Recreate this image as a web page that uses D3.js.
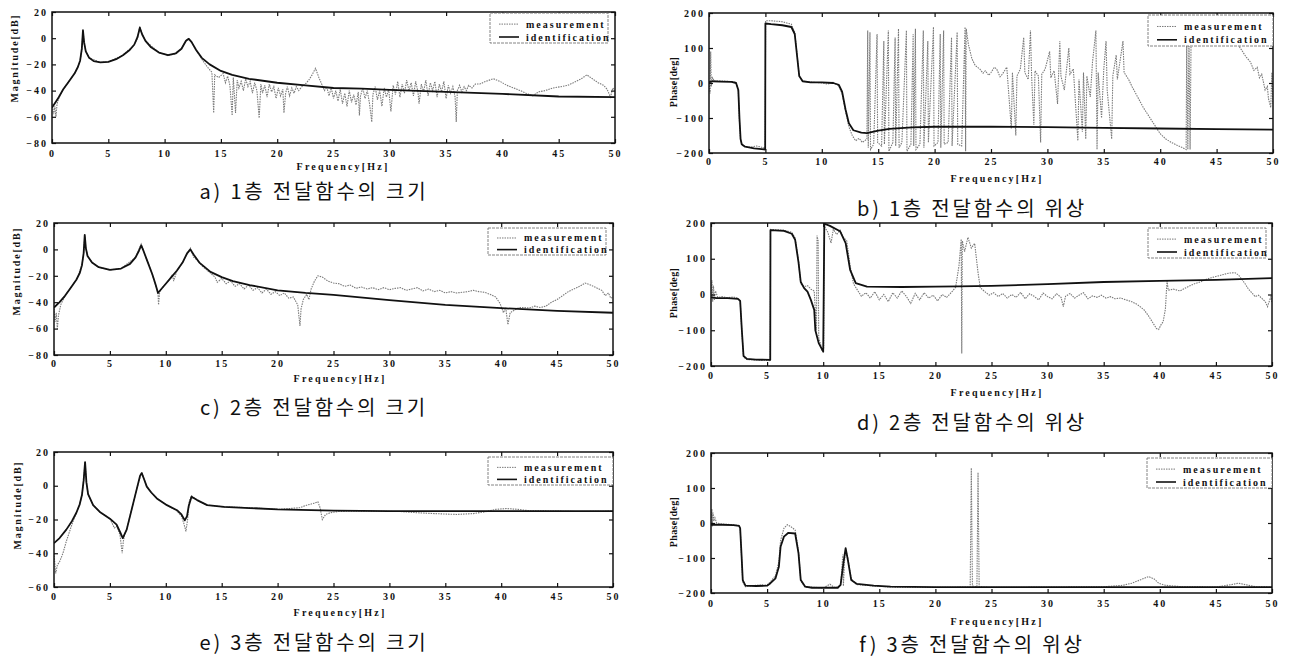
<!DOCTYPE html>
<html>
<head>
<meta charset="utf-8">
<script src="https://cdn.jsdelivr.net/npm/d3@7"></script>
<style>
  body { margin: 0; background: #fff; }
  svg text { font-family: "Liberation Serif", "DejaVu Serif", serif; }
  svg text.caption { font-family: "Noto Sans CJK KR", "Noto Sans", sans-serif; }
</style>
</head>
<body>
<div id="container"></div>
<script>
// tick labels and texts
const freqTicks = [0, 5, 10, 15, 20, 25, 30, 35, 40, 45, 50];
const magTicks12 = [20, 0, -20, -40, -60, -80];
const magTicks3 = [20, 0, -20, -40, -60];
const phaseTicks = [200, 100, 0, -100, -200];
const legendLabels = ["measurement", "identification"];
const captions = [
  "a) 1층 전달함수의 크기", "b) 1층 전달함수의 위상",
  "c) 2층 전달함수의 크기", "d) 2층 전달함수의 위상",
  "e) 3층 전달함수의 크기", "f) 3층 전달함수의 위상"
];

// [frequency Hz, value]
const ident1Mag = [[0,-53],[0.3,-49],[0.6,-45],[1,-39],[1.5,-33],[2,-27],[2.3,-22],[2.5,-17],[2.65,-8],[2.75,6],[2.85,-3],[3,-10],[3.3,-15],[3.7,-17.5],[4.3,-18.5],[5,-18],[5.7,-16],[6.3,-13],[6.9,-9],[7.3,-5],[7.6,1],[7.8,8],[8,3],[8.3,-2],[8.8,-7],[9.5,-11],[10.3,-13],[11,-11.5],[11.5,-8],[11.9,-2],[12.15,-0.5],[12.4,-3],[12.8,-9],[13.3,-15],[14,-20],[15,-25],[16,-28],[17.5,-31],[20,-34],[22.5,-36],[25,-38],[27.5,-38.5],[30,-39.5],[35,-41],[40,-42.5],[45,-44.5],[50,-45]];
const meas1Mag = [[0,-50],[0.15,-58],[0.25,-52],[0.35,-60],[0.45,-50],[0.6,-46],[1,-39],[1.5,-33],[2,-27],[2.3,-22],[2.5,-17],[2.65,-9],[2.75,7],[2.85,-4],[3,-10],[3.3,-15],[4.3,-18.5],[5,-18],[6.3,-13],[7.3,-5],[7.6,0],[7.8,9],[8,3],[8.3,-2],[9.5,-11],[10.3,-13],[11,-12],[11.5,-8],[11.9,-2],[12.1,0],[12.4,-3],[12.8,-9],[13.3,-16],[13.8,-22],[14.2,-26],[14.36,-57],[14.45,-28],[14.8,-30],[15.2,-27],[15.4,-34],[15.6,-29],[15.8,-36],[16.0,-59],[16.1,-30],[16.3,-57],[16.45,-32],[16.6,-38],[16.8,-33],[17.0,-40],[17.2,-31],[17.4,-37],[17.6,-33],[17.8,-42],[18,-34],[18.2,-40],[18.4,-61],[18.55,-35],[18.7,-42],[18.9,-36],[19.1,-45],[19.3,-35],[19.5,-41],[19.7,-37],[19.9,-46],[20.1,-38],[20.3,-44],[20.5,-39],[20.6,-57],[20.75,-42],[20.9,-37],[21.1,-44],[21.3,-38],[21.5,-42],[21.7,-37],[21.9,-40],[22.2,-37],[22.5,-35],[22.8,-32],[23.1,-28],[23.4,-23],[23.7,-30],[24.0,-36],[24.2,-40],[24.4,-37],[24.6,-44],[24.8,-38],[25.0,-46],[25.2,-40],[25.4,-48],[25.6,-39],[25.8,-50],[26.0,-42],[26.2,-52],[26.4,-40],[26.6,-49],[26.8,-43],[27.0,-51],[27.2,-41],[27.3,-59],[27.4,-44],[27.6,-38],[27.8,-46],[28.0,-40],[28.2,-50],[28.4,-64],[28.5,-43],[28.7,-37],[28.9,-47],[29.1,-40],[29.3,-52],[29.5,-38],[29.7,-45],[29.9,-39],[30.1,-56],[30.3,-36],[30.5,-43],[30.7,-33],[30.9,-45],[31.1,-35],[31.3,-42],[31.5,-32],[31.7,-40],[31.9,-34],[32.1,-44],[32.3,-33],[32.5,-41],[32.6,-50],[32.8,-35],[33.0,-41],[33.2,-32],[33.4,-44],[33.6,-34],[33.8,-40],[34.0,-33],[34.2,-45],[34.4,-35],[34.6,-41],[34.8,-33],[35.0,-46],[35.2,-36],[35.4,-42],[35.6,-37],[35.8,-45],[35.9,-64],[36.0,-40],[36.2,-36],[36.4,-41],[36.6,-37],[36.8,-40],[37.0,-36],[37.3,-38],[37.6,-35],[38,-35],[38.5,-33],[39.2,-31],[39.8,-33],[40.4,-36],[41,-38],[41.6,-40],[42.1,-42],[42.7,-44],[43.2,-41],[43.8,-40],[44.5,-38],[45.2,-37],[45.8,-36],[46.3,-34],[47,-31],[47.5,-28],[48,-31],[48.5,-34],[49,-36],[49.3,-39],[49.6,-45],[49.8,-38],[50,-40]];

const ident1Phase = [[0,2],[0.3,5],[1,4],[2,3],[2.4,0],[2.6,-20],[2.7,-100],[2.8,-160],[2.9,-175],[3.2,-182],[4,-187],[4.98,-190],[5.0,170],[5.5,168],[6.5,165],[7.3,160],[7.6,140],[7.8,80],[8,20],[8.3,5],[9,2],[10,2],[11,0],[11.5,-5],[11.8,-25],[12.1,-75],[12.4,-115],[12.8,-135],[13.5,-142],[14,-143],[15,-136],[16,-131],[18,-127],[20,-125],[25,-125],[30,-126],[35,-128],[40,-130],[45,-132],[50,-133]];
const meas1Phase = [[0,0],[0.1,-30],[0.15,90],[0.2,-10],[0.3,15],[0.5,5],[1,6],[2,4],[2.4,2],[2.6,-25],[2.7,-110],[2.8,-165],[3,-180],[3.5,-184],[4.2,-180],[4.98,-186],[5.02,178],[5.5,178],[6.5,175],[7.3,168],[7.6,145],[7.8,85],[8.0,20],[8.3,5],[9,3],[10,0],[10.5,-3],[11,2],[11.5,-8],[11.8,-30],[12.1,-80],[12.4,-125],[12.7,-150],[13,-165],[13.3,-158],[13.6,-170],[14.0,-160],[14.07,150],[14.12,-185],[14.27,145],[14.32,-190],[14.6,-175],[14.9,140],[14.95,-170],[15.3,-180],[15.5,120],[15.55,-175],[15.9,150],[15.95,-195],[16.3,-170],[16.5,130],[16.55,-180],[16.8,155],[16.85,-185],[17.1,-170],[17.5,150],[17.55,-195],[17.9,-175],[18.1,140],[18.15,-180],[18.3,155],[18.35,-190],[18.7,-175],[19,150],[19.05,-185],[19.4,120],[19.45,-170],[19.9,160],[19.95,-180],[20.3,-170],[20.5,140],[20.55,-185],[20.8,150],[20.85,-175],[21.2,-170],[21.5,130],[21.55,-180],[22,145],[22.05,-175],[22.4,-180],[22.7,160],[22.75,-195],[22.8,155],[23,110],[23.3,70],[23.6,50],[24,40],[24.3,28],[24.5,35],[24.8,22],[25,30],[25.3,45],[25.5,40],[25.8,18],[26,25],[26.4,45],[26.8,-130],[26.9,30],[27.2,-150],[27.3,20],[27.6,40],[27.9,130],[28,30],[28.3,10],[28.5,150],[28.6,20],[28.8,-120],[28.9,35],[29.2,20],[29.4,-170],[29.5,25],[29.8,40],[30.2,90],[30.3,15],[30.6,35],[30.9,-60],[31.1,120],[31.2,20],[31.5,-20],[31.9,100],[32,25],[32.3,40],[32.7,-165],[32.8,10],[33.1,-140],[33.2,30],[33.4,-160],[33.5,20],[33.8,-40],[34,60],[34.3,150],[34.4,-190],[34.5,30],[34.8,-100],[35,40],[35.2,120],[35.3,-20],[35.7,-160],[35.8,20],[36.1,80],[36.2,10],[36.7,120],[36.8,30],[37.2,10],[37.5,-10],[38,-40],[38.5,-70],[39,-95],[39.5,-120],[40,-145],[40.5,-160],[41,-170],[41.5,-178],[42,-185],[42.3,-190],[42.35,130],[42.45,-190],[42.55,130],[42.65,-190],[42.75,175],[43.5,170],[44.5,160],[45.5,150],[46.5,125],[47.1,100],[47.6,75],[48,60],[48.3,36],[48.6,45],[48.8,15],[49,25],[49.3,-20],[49.5,-10],[49.6,-45],[49.8,-70],[49.9,30],[50,-60]];

const ident2Mag = [[0,-44],[0.5,-40],[1,-35],[1.5,-29],[2,-23],[2.3,-18],[2.5,-12],[2.65,-3],[2.75,11],[2.85,1],[3,-5],[3.4,-10],[4,-13.5],[5,-15.5],[6,-14.5],[6.8,-11],[7.3,-6],[7.6,-1],[7.8,3],[8,-1],[8.4,-10],[8.8,-19],[9.1,-27],[9.3,-33],[9.6,-30],[10,-26],[10.5,-21],[11,-16],[11.5,-10],[11.9,-3],[12.2,0],[12.5,-4],[13,-10],[14,-17],[15,-21],[16,-24],[17.5,-27],[20,-31],[22.5,-33],[25,-34.5],[30,-38.5],[35,-42],[40,-44.5],[45,-46.5],[50,-48]];
const meas2Mag = [[0,-45],[0.1,-55],[0.2,-48],[0.3,-60],[0.4,-50],[0.6,-42],[1,-35],[1.5,-29],[2,-23],[2.5,-12],[2.65,-3],[2.75,10],[2.85,1],[3,-5],[3.4,-10],[4,-13.5],[5,-15.5],[6,-14.5],[7.3,-6],[7.8,4],[8,-1],[8.4,-10],[8.8,-19],[9.3,-33],[9.35,-42],[9.45,-32],[9.8,-28],[10.3,-23],[10.6,-19],[10.7,-24],[11,-16],[11.5,-10],[12,-2],[12.2,1],[12.5,-6],[12.8,-8],[13.3,-13],[14,-18],[14.4,-21],[14.6,-25],[15,-22],[15.4,-26],[15.8,-24],[16.2,-28],[16.6,-26],[17,-30],[17.4,-27],[17.8,-31],[18.2,-29],[18.6,-33],[19,-30],[19.4,-34],[19.8,-32],[20.2,-35],[20.6,-33],[21,-37],[21.4,-36],[21.8,-42],[22,-58],[22.1,-45],[22.3,-38],[22.6,-34],[22.8,-38],[23,-30],[23.3,-24],[23.6,-20],[24,-21],[24.5,-24],[25,-25.5],[25.5,-26],[26,-28],[26.5,-27],[27,-29.5],[27.5,-28.5],[28,-30],[28.5,-29],[29,-30.5],[29.5,-29],[30,-30.5],[30.5,-29.5],[31,-29],[31.5,-31],[32,-30],[32.5,-29],[33,-31.5],[33.5,-30],[34,-32],[34.5,-31],[35,-33],[35.5,-32],[36,-33],[36.5,-32.5],[37,-32],[37.5,-31],[38,-32],[38.5,-32.5],[39,-34],[39.5,-36],[39.9,-41],[40.2,-48],[40.4,-44],[40.6,-57],[40.8,-48],[41.2,-46],[41.6,-44],[42,-44],[42.5,-44.5],[43,-43],[43.5,-44],[44,-43],[44.5,-40],[45,-38],[45.5,-35],[46,-32],[46.5,-30],[47,-28],[47.5,-25.5],[48,-27],[48.5,-29],[49,-31],[49.3,-35],[49.6,-33],[49.8,-37],[50,-36]];

const ident2Phase = [[0,-8],[0.5,-10],[1.5,-10],[2.4,-12],[2.6,-18],[2.75,-100],[2.9,-172],[3.2,-180],[4,-182],[5.28,-183],[5.3,180],[6.5,178],[7.2,170],[7.5,153],[7.8,90],[8.0,35],[8.3,18],[8.6,8],[8.9,-15],[9.2,-43],[9.3,-100],[9.6,-136],[10.0,-160],[10.1,198],[10.6,192],[11.5,177],[12,144],[12.4,69],[12.9,32],[13.9,22],[17,21],[20,22],[22,23],[25,24],[30,29],[35,35],[40,38],[45,41],[50,46]];
const meas2Phase = [[0,-5],[0.08,40],[0.15,-20],[0.22,25],[0.3,-15],[0.4,10],[0.6,-8],[1,-6],[1.5,-9],[2,-7],[2.4,-10],[2.6,-18],[2.75,-105],[2.9,-175],[3.2,-182],[4,-183],[5.28,-185],[5.3,182],[6.5,180],[7.2,174],[7.5,158],[7.8,95],[8.0,30],[8.3,22],[8.6,25],[8.9,15],[9.2,10],[9.4,-100],[9.45,165],[9.55,150],[9.6,-120],[9.9,-155],[10.05,-150],[10.1,190],[10.4,175],[10.7,144],[10.9,182],[11.2,168],[11.5,180],[11.8,160],[12.1,150],[12.4,80],[12.7,30],[13,15],[13.4,-5],[13.8,5],[14.2,-10],[14.6,8],[15,-15],[15.4,0],[15.8,-20],[16.2,5],[16.6,-10],[17,10],[17.4,-5],[17.8,-25],[18.2,3],[18.6,-15],[19,5],[19.4,-10],[19.8,-2],[20.2,-18],[20.6,0],[21,-8],[21.4,5],[21.8,20],[22.1,80],[22.3,155],[22.35,-165],[22.4,150],[22.6,120],[22.9,160],[23.2,130],[23.5,143],[23.8,61],[24,19],[24.4,8],[24.8,-2],[25.2,5],[25.6,-6],[26,3],[26.4,-10],[26.8,0],[27.2,-8],[27.6,6],[28,-12],[28.4,2],[28.8,-5],[29.2,-15],[29.6,4],[30,-6],[30.4,-12],[30.8,2],[31.2,-8],[31.4,-34],[31.6,-5],[32,3],[32.4,-10],[32.8,-2],[33.2,5],[33.6,-12],[34,-4],[34.4,-8],[34.8,-2],[35.2,-10],[35.6,-6],[36,-12],[36.5,-10],[37,-15],[37.5,-20],[38,-28],[38.6,-43],[39,-60],[39.4,-80],[39.7,-95],[39.9,-98],[40.1,-85],[40.3,-76],[40.5,-40],[40.6,15],[40.65,38],[40.75,12],[41.2,15],[41.8,10],[42.4,20],[43,29],[43.6,35],[44.1,42],[44.6,47],[45.2,52],[45.8,57],[46.2,60],[46.7,61],[47,55],[47.3,43],[47.6,30],[47.9,15],[48.2,5],[48.5,-6],[48.8,-2],[49.1,-11],[49.4,-20],[49.6,-34],[49.8,-15],[49.9,-6],[50,-24]];

const ident3Mag = [[0,-34],[0.5,-31],[1.1,-26],[1.6,-21],[2,-16],[2.3,-11],[2.5,-5.5],[2.65,3],[2.78,14],[2.9,2],[3.05,-5],[3.5,-11.5],[4.1,-15.5],[5,-19.5],[5.6,-23],[5.95,-28],[6.15,-31],[6.5,-26],[6.8,-18],[7.1,-10],[7.4,-2],[7.7,6],[7.85,7.5],[8.05,4],[8.3,-0.5],[8.7,-4],[9.2,-7.5],[10.1,-11.5],[11,-14.5],[11.4,-17],[11.7,-20.5],[11.9,-18],[12.05,-12],[12.3,-6.5],[12.8,-8.5],[13.7,-11.5],[15.2,-12.5],[17.5,-13.2],[20,-14],[25,-14.8],[30,-15],[40,-15],[50,-15]];
const meas3Mag = [[0,-40],[0.15,-52],[0.3,-47],[0.5,-45],[0.8,-40],[1.1,-33],[1.6,-23],[2,-16],[2.3,-11],[2.5,-5.5],[2.65,3],[2.78,14],[2.9,2],[3.05,-5],[3.5,-11.5],[4.1,-15.5],[5,-19.5],[5.4,-25],[5.6,-24],[5.9,-29],[6.1,-40],[6.2,-33],[6.35,-28],[6.5,-26],[6.8,-18],[7.1,-10],[7.4,-2],[7.7,5],[7.85,8],[8.05,4],[8.3,-0.5],[8.7,-4],[9.2,-7.5],[10.1,-11.5],[11,-15],[11.4,-18],[11.6,-22],[11.8,-27],[11.95,-20],[12.1,-9],[12.3,-6],[12.8,-8.5],[13.7,-11.5],[15.2,-12.5],[17.5,-13],[20,-14],[21,-13.5],[22,-13],[22.6,-11.5],[23.2,-10.5],[23.6,-9.5],[23.8,-13],[24,-20],[24.3,-17],[24.7,-16],[25.5,-15.2],[28,-15],[31,-15.3],[32.5,-16],[34,-16.5],[36,-17],[37.5,-16.5],[38.5,-15.5],[39.5,-14],[40.5,-13.5],[41.5,-14],[42.5,-14.8],[45,-15],[47,-15.3],[50,-15]];

const ident3Phase = [[0,-5],[1,-5],[2,-6],[2.5,-8],[2.6,-15],[2.72,-90],[2.83,-163],[3.07,-179],[4,-180],[5,-179],[5.3,-172],[5.75,-158],[6.05,-125],[6.2,-68],[6.5,-39],[6.9,-28],[7.5,-30],[7.8,-87],[8.0,-163],[8.4,-182],[9,-185],[11.3,-185],[11.55,-177],[11.8,-115],[12.0,-72],[12.2,-106],[12.5,-163],[13,-174],[14.5,-179],[16,-182],[20,-183],[30,-183],[40,-183],[50,-183]];
const meas3Phase = [[0,0],[0.08,40],[0.12,-10],[0.18,30],[0.25,5],[0.35,15],[0.5,0],[1,-3],[2,-5],[2.5,-7],[2.6,-15],[2.72,-95],[2.83,-168],[3.07,-182],[4,-178],[5,-177],[5.3,-168],[5.75,-150],[6.05,-110],[6.2,-50],[6.5,-15],[6.8,-5],[7.1,-10],[7.5,-20],[7.8,-80],[8.0,-165],[8.4,-184],[9,-183],[10,-186],[10.6,-175],[11,-184],[11.3,-183],[11.55,-178],[11.75,-90],[11.8,-180],[11.9,-110],[12.0,-75],[12.2,-100],[12.5,-160],[13,-176],[14.5,-180],[16,-183],[20,-184],[23.1,-183],[23.2,157],[23.3,-180],[23.7,-183],[23.8,144],[23.9,-182],[25,-184],[30,-183],[35,-182],[36.7,-178],[37.5,-172],[38.3,-162],[39,-153],[39.5,-160],[39.9,-172],[40.5,-178],[42,-182],[45,-183],[46.4,-176],[47,-172],[47.6,-176],[48.5,-182],[50,-183]];

const panels = [
  { left: 52, top: 12, right: 615, bottom: 143, yDomain: [-80, 20], yTicks: magTicks12, yLabel: "Magnitude[dB]",
    yLabelX: 14, yLabelY: 58, meas: meas1Mag, ident: ident1Mag, cap: captions[0], capX: 314, capY: 190,
    xLabX: 343, xLabY: 166, pad: 7, legend: [490, 13, 118, 30] },
  { left: 709, top: 13, right: 1273, bottom: 153, yDomain: [-200, 200], yTicks: phaseTicks, yLabel: "Phase[deg]",
    yLabelX: 673, yLabelY: 82, meas: meas1Phase, ident: ident1Phase, cap: captions[1], capX: 972, capY: 207,
    xLabX: 997, xLabY: 178, pad: 5, legend: [1148, 15, 125, 31] },
  { left: 54, top: 223, right: 613, bottom: 355, yDomain: [-80, 20], yTicks: magTicks12, yLabel: "Magnitude[dB]",
    yLabelX: 16, yLabelY: 271, meas: meas2Mag, ident: ident2Mag, cap: captions[2], capX: 314, capY: 406,
    xLabX: 340, xLabY: 378, pad: 5, legend: [488, 228, 118, 27] },
  { left: 711, top: 223, right: 1272, bottom: 366, yDomain: [-200, 200], yTicks: phaseTicks, yLabel: "Phase[deg]",
    yLabelX: 673, yLabelY: 293, meas: meas2Phase, ident: ident2Phase, cap: captions[3], capX: 972, capY: 421,
    xLabX: 997, xLabY: 392, pad: 6, legend: [1148, 228, 118, 30] },
  { left: 54, top: 452, right: 613, bottom: 587, yDomain: [-60, 20], yTicks: magTicks3, yLabel: "Magnitude[dB]",
    yLabelX: 17, yLabelY: 505, meas: meas3Mag, ident: ident3Mag, cap: captions[4], capX: 314, capY: 641,
    xLabX: 340, xLabY: 612, pad: 6, legend: [488, 457, 125, 28] },
  { left: 711, top: 453, right: 1272, bottom: 593, yDomain: [-200, 200], yTicks: phaseTicks, yLabel: "Phase[deg]",
    yLabelX: 673, yLabelY: 522, meas: meas3Phase, ident: ident3Phase, cap: captions[5], capX: 972, capY: 643,
    xLabX: 997, xLabY: 621, pad: 7, legend: [1147, 458, 125, 30] }
];

const svg = d3.select("#container").
append("svg").
attr("width", 1293).
attr("height", 659);

panels.forEach((p, i) => drawPanel(p, i));

function drawPanel(p, i) {
  let x = d3.scaleLinear().domain([0, 50]).range([p.left, p.right]);
  let y = d3.scaleLinear().domain(p.yDomain).range([p.bottom, p.top]);
  let g = svg.append("g");

  g.append("clipPath").attr("id", "clip" + i).
  append("rect").
  attr("x", p.left).attr("y", p.top).
  attr("width", p.right - p.left).attr("height", p.bottom - p.top);

  let line = d3.line().x(d => x(d[0])).y(d => y(d[1]));

  // measurement: grey dotted trace
  g.append("path").
  attr("clip-path", "url(#clip" + i + ")").
  attr("d", line(p.meas)).
  attr("fill", "none").
  attr("stroke", "#7a7a7a").
  attr("stroke-width", 1.1).
  attr("stroke-dasharray", "1.5,1");

  // identification: solid black
  g.append("path").
  attr("clip-path", "url(#clip" + i + ")").
  attr("d", line(p.ident)).
  attr("fill", "none").
  attr("stroke", "#111").
  attr("stroke-width", 1.8).
  attr("stroke-linejoin", "round");

  // axes with inward ticks on all four sides
  let bottomAxis = d3.axisBottom(x).tickValues(freqTicks).tickSizeInner(-4).tickSizeOuter(0).tickPadding(p.pad);
  let topAxis = d3.axisTop(x).tickValues(freqTicks).tickSizeInner(-4).tickSizeOuter(0).tickFormat("");
  let leftAxis = d3.axisLeft(y).tickValues(p.yTicks).tickSizeInner(-4).tickSizeOuter(0).tickPadding(4);
  let rightAxis = d3.axisRight(y).tickValues(p.yTicks).tickSizeInner(-4).tickSizeOuter(0).tickFormat("");

  g.append("g").attr("transform", "translate(0," + p.bottom + ")").call(bottomAxis);
  g.append("g").attr("transform", "translate(0," + p.top + ")").call(topAxis);
  g.append("g").attr("transform", "translate(" + p.left + ",0)").call(leftAxis);
  g.append("g").attr("transform", "translate(" + p.right + ",0)").call(rightAxis);

  g.selectAll(".domain").remove();
  g.selectAll(".tick line").attr("stroke", "#111").attr("stroke-width", 1.2);
  g.selectAll(".tick text").
  attr("font-family", null).
  attr("font-weight", "bold").
  attr("font-size", 10).
  attr("letter-spacing", 2).
  attr("fill", "#111");

  // frame
  g.append("rect").
  attr("x", p.left).attr("y", p.top).
  attr("width", p.right - p.left).attr("height", p.bottom - p.top).
  attr("fill", "none").
  attr("stroke", "#111").
  attr("stroke-width", 1.5);

  // legend
  let [lx, ly, lw, lh] = p.legend;
  let leg = g.append("g");
  leg.append("rect").
  attr("x", lx).attr("y", ly).attr("width", lw).attr("height", lh).
  attr("fill", "#fff").
  attr("stroke", "#666").
  attr("stroke-width", 0.8).
  attr("stroke-dasharray", "3,1");
  legendLabels.forEach((t, k) => {
    let yy = ly + lh * (k === 0 ? 0.37 : 0.8);
    leg.append("line").
    attr("x1", lx + 9).attr("x2", lx + 29).
    attr("y1", yy).attr("y2", yy).
    attr("stroke", k === 0 ? "#7a7a7a" : "#111").
    attr("stroke-width", k === 0 ? 1 : 1.6).
    attr("stroke-dasharray", k === 0 ? "1.5,1" : null);
    leg.append("text").
    attr("x", lx + 36).attr("y", yy).
    attr("dominant-baseline", "central").
    attr("font-weight", "bold").
    attr("font-size", 10).
    attr("letter-spacing", 2).
    attr("fill", "#111").
    text(t);
  });

  // axis titles
  g.append("text").
  attr("x", p.xLabX).attr("y", p.xLabY).
  attr("text-anchor", "middle").
  attr("dominant-baseline", "central").
  attr("font-weight", "bold").
  attr("font-size", 10).
  attr("letter-spacing", 2.2).
  attr("fill", "#111").
  text("Frequency[Hz]");

  g.append("text").
  attr("transform", "translate(" + p.yLabelX + "," + p.yLabelY + ") rotate(-90)").
  attr("text-anchor", "middle").
  attr("dominant-baseline", "central").
  attr("font-weight", "bold").
  attr("font-size", 10).
  attr("letter-spacing", p.yLabel.startsWith("M") ? 1.8 : 0.4).
  attr("fill", "#111").
  text(p.yLabel);

  // caption
  g.append("text").
  attr("class", "caption").
  attr("x", p.capX).attr("y", p.capY).
  attr("text-anchor", "middle").
  attr("dominant-baseline", "central").
  attr("font-size", 20).
  attr("letter-spacing", 2.8).
  attr("fill", "#111").
  text(p.cap);
}
</script>
</body>
</html>
